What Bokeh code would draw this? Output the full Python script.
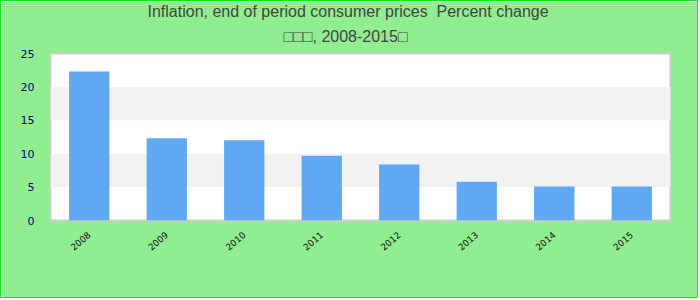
import math
from bokeh.plotting import figure
from bokeh.models import ColumnDataSource, FactorRange, Range1d, FixedTicker, Title
from bokeh.embed import file_html
from bokeh.resources import INLINE

years = ["2008", "2009", "2010", "2011", "2012", "2013", "2014", "2015"]
inflation = [22.3, 12.3, 12.0, 9.7, 8.4, 5.8, 5.1, 5.1]
y_ticks = [0, 5, 10, 15, 20, 25]
title_line1 = "Inflation, end of period consumer prices \u00a0Percent change"
title_line2 = "\u25a1\u25a1\u25a1, 2008-2015\u25a1"

src = ColumnDataSource(dict(x=years, y=inflation))

p = figure(width=698, height=298, output_backend="svg", toolbar_location=None,
           x_range=FactorRange(*years, range_padding=0), y_range=Range1d(0, 25),
           min_border_left=49, min_border_right=29, min_border_top=52, min_border_bottom=79)
p.styles = {"border": "1px solid #1ee01e"}

p.vbar(x="x", top="y", width=0.52, source=src, color="#61a8f4", line_color=None)

p.background_fill_color = "white"
p.border_fill_color = "#90ee90"
p.outline_line_color = "#cccccc"
p.outline_line_width = 2

def style_title(t, offset):
    t.align = "left"
    t.offset = offset
    t.text_font = "Liberation Sans"
    t.text_font_size = "16px"
    t.text_font_style = "normal"
    t.text_color = "#444444"

p.title.text = title_line1
style_title(p.title, 97)
p.title.standoff = -7
t2 = Title(text=title_line2)
style_title(t2, 233)
t2.standoff = 18
p.add_layout(t2, "above")

p.xgrid.grid_line_color = None
p.ygrid.grid_line_color = None
p.ygrid.band_fill_color = "#f2f2f2"
p.ygrid.band_fill_alpha = 1.0

p.yaxis.ticker = FixedTicker(ticks=y_ticks)
for ax in (p.xaxis[0], p.yaxis[0]):
    ax.axis_line_color = None
    ax.major_tick_line_color = None
    ax.minor_tick_line_color = None
    ax.major_label_text_font = "DejaVu Sans"

p.yaxis.major_label_text_color = "#00008b"
p.yaxis.major_label_text_font_size = "11px"
p.yaxis.major_label_standoff = 10
p.xaxis.major_label_text_color = "#111111"
p.xaxis.major_label_text_font_size = "9px"
p.xaxis.major_label_orientation = 0.7
p.xaxis.major_label_standoff = 7

open("out.html", "w").write(file_html(p, INLINE))
